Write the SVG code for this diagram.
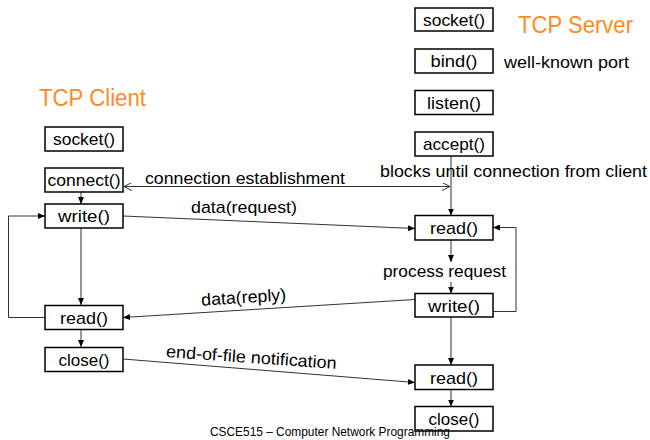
<svg xmlns="http://www.w3.org/2000/svg" width="650" height="440" viewBox="0 0 650 440">
<style>
.box{fill:#fff;stroke:#000;stroke-width:1.5}
.bt{font-family:"Liberation Sans",Arial,sans-serif;font-size:17px;fill:#000;text-anchor:middle}
.lbl{font-family:"Liberation Sans",Arial,sans-serif;font-size:17px;fill:#000}
.ttl{font-family:"Liberation Sans",Arial,sans-serif;font-size:23px;fill:#FF8A1F}
.ln{fill:none;stroke:#333;stroke-width:1}
.foot{font-family:"Liberation Sans",Arial,sans-serif;font-size:13px;fill:#000}
</style>
<defs>
<marker id="ah" markerWidth="7" markerHeight="6" refX="7" refY="3" orient="auto" markerUnits="userSpaceOnUse">
<path d="M0,0 L7,3 L0,6 Z" fill="#000"/>
</marker>
<marker id="oh" markerWidth="8" markerHeight="8" refX="8" refY="4" orient="auto-start-reverse" markerUnits="userSpaceOnUse">
<path d="M0,0 L8,4 L0,8" fill="none" stroke="#333" stroke-width="1"/>
</marker>
</defs>

<text class="ttl" x="39" y="106" textLength="107" lengthAdjust="spacingAndGlyphs">TCP Client</text>
<text class="ttl" x="518" y="33" textLength="115" lengthAdjust="spacingAndGlyphs">TCP Server</text>
<text class="lbl" x="504" y="68" textLength="125" lengthAdjust="spacingAndGlyphs">well-known port</text>

<g id="connectors">
<line class="ln" x1="81" y1="192" x2="81" y2="204" marker-end="url(#ah)"/>
<line class="ln" x1="81" y1="228" x2="81" y2="305" marker-end="url(#ah)"/>
<polyline class="ln" points="45,317.5 8.5,317.5 8.5,216 45,216" marker-end="url(#ah)"/>
<line class="ln" x1="81" y1="329" x2="81" y2="347" marker-end="url(#ah)"/>
<line class="ln" x1="124" y1="186.5" x2="450" y2="186.5" marker-start="url(#oh)" marker-end="url(#oh)"/>
<line class="ln" x1="451" y1="156" x2="451" y2="215.5" marker-end="url(#ah)"/>
<line class="ln" x1="123" y1="216" x2="415" y2="228.5" marker-end="url(#ah)"/>
<line class="ln" x1="451" y1="240" x2="451" y2="262" marker-end="url(#ah)"/>
<line class="ln" x1="451" y1="282" x2="451" y2="293.5" marker-end="url(#ah)"/>
<polyline class="ln" points="493,311.5 516,311.5 516,227.5 493,227.5" marker-end="url(#ah)"/>
<line class="ln" x1="415" y1="299.5" x2="123" y2="317.5" marker-end="url(#ah)"/>
<line class="ln" x1="451" y1="317" x2="451" y2="365" marker-end="url(#ah)"/>
<line class="ln" x1="123" y1="359" x2="415" y2="382.5" marker-end="url(#ah)"/>
<line class="ln" x1="451" y1="389.5" x2="451" y2="406.5" marker-end="url(#ah)"/>
</g>

<g id="labels">
<text class="lbl" x="145" y="184" textLength="200" lengthAdjust="spacingAndGlyphs">connection establishment</text>
<text class="lbl" x="380" y="177" textLength="267" lengthAdjust="spacingAndGlyphs">blocks until connection from client</text>
<text class="lbl" x="191" y="213" textLength="106" lengthAdjust="spacingAndGlyphs">data(request)</text>
<text class="lbl" x="383" y="277" textLength="123" lengthAdjust="spacingAndGlyphs">process request</text>
<text class="lbl" x="244" y="303" text-anchor="middle" transform="rotate(-3.6 244 303)" textLength="85" lengthAdjust="spacingAndGlyphs">data(reply)</text>
<text class="lbl" x="251" y="363" text-anchor="middle" transform="rotate(4 251 363)" textLength="171" lengthAdjust="spacingAndGlyphs">end-of-file notification</text>
</g>

<g id="c_socket"><rect class="box" x="45" y="127" width="78" height="24"/><text class="bt" x="84" y="145" textLength="62" lengthAdjust="spacingAndGlyphs">socket()</text></g>
<g id="c_connect"><rect class="box" x="45" y="168" width="78" height="24"/><text class="bt" x="84" y="186" textLength="73" lengthAdjust="spacingAndGlyphs">connect()</text></g>
<g id="c_write"><rect class="box" x="45" y="204" width="78" height="24"/><text class="bt" x="84" y="222" textLength="52" lengthAdjust="spacingAndGlyphs">write()</text></g>
<g id="c_read"><rect class="box" x="45" y="305.5" width="78" height="24"/><text class="bt" x="84" y="323.5" textLength="48" lengthAdjust="spacingAndGlyphs">read()</text></g>
<g id="c_close"><rect class="box" x="45" y="347.5" width="78" height="24"/><text class="bt" x="84" y="365.5" textLength="51" lengthAdjust="spacingAndGlyphs">close()</text></g>

<g id="s_socket"><rect class="box" x="415" y="8" width="78" height="23"/><text class="bt" x="454" y="26" textLength="62" lengthAdjust="spacingAndGlyphs">socket()</text></g>
<g id="s_bind"><rect class="box" x="415" y="49" width="78" height="24"/><text class="bt" x="454" y="67" textLength="47" lengthAdjust="spacingAndGlyphs">bind()</text></g>
<g id="s_listen"><rect class="box" x="415" y="90.5" width="78" height="24"/><text class="bt" x="454" y="108.5" textLength="54" lengthAdjust="spacingAndGlyphs">listen()</text></g>
<g id="s_accept"><rect class="box" x="415" y="132" width="78" height="24"/><text class="bt" x="454" y="150" textLength="62" lengthAdjust="spacingAndGlyphs">accept()</text></g>
<g id="s_read1"><rect class="box" x="415" y="215.5" width="78" height="24.5"/><text class="bt" x="454" y="234" textLength="48" lengthAdjust="spacingAndGlyphs">read()</text></g>
<g id="s_write"><rect class="box" x="415" y="293.5" width="78" height="23.5"/><text class="bt" x="454" y="311.5" textLength="52" lengthAdjust="spacingAndGlyphs">write()</text></g>
<g id="s_read2"><rect class="box" x="415" y="365" width="78" height="24.5"/><text class="bt" x="454" y="383.5" textLength="48" lengthAdjust="spacingAndGlyphs">read()</text></g>
<g id="s_close"><rect class="box" x="415" y="406.5" width="78" height="24.5"/><text class="bt" x="454" y="425" textLength="51" lengthAdjust="spacingAndGlyphs">close()</text></g>

<text class="foot" x="210" y="436" textLength="240" lengthAdjust="spacingAndGlyphs">CSCE515 – Computer Network Programming</text>
</svg>
